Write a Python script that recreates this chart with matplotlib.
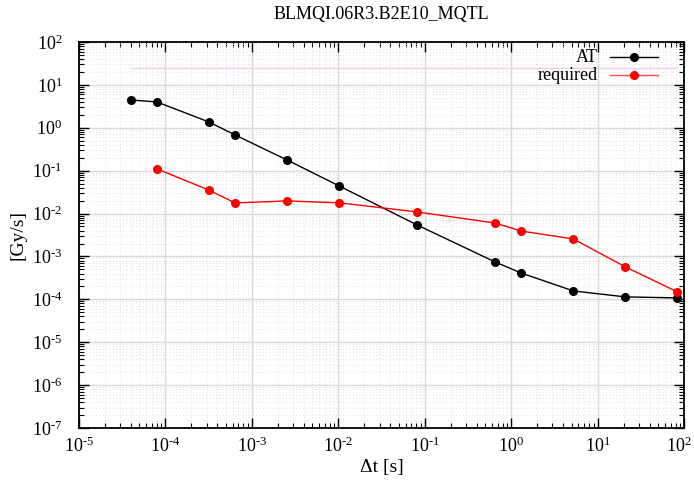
import matplotlib
matplotlib.use("Agg")
import matplotlib.pyplot as plt
from matplotlib.ticker import LogLocator, NullFormatter
from matplotlib.transforms import ScaledTranslation
import numpy as np

plt.rcParams['font.family'] = ['Liberation Serif', 'DejaVu Serif']
plt.rcParams['mathtext.fontset'] = 'custom'
plt.rcParams['mathtext.rm'] = 'Liberation Serif'
plt.rcParams['mathtext.it'] = 'Liberation Serif:italic'
plt.rcParams['mathtext.bf'] = 'Liberation Serif:bold'

title = "BLMQI.06R3.B2E10_MQTL"
xlabel = "Δt [s]"
ylabel = "[Gy/s]"

# running sum integration times [s]
t_at = [4e-5, 8e-5, 3.2e-4, 6.4e-4, 2.56e-3, 1.024e-2, 8.192e-2, 0.65536, 1.31072, 5.24288, 20.97152, 83.88608]
at_vals = [4.45, 4.0, 1.36, 0.68, 0.177, 0.044, 0.0054, 7.4e-4, 4.1e-4, 1.57e-4, 1.14e-4, 1.08e-4]

t_req = [8e-5, 3.2e-4, 6.4e-4, 2.56e-3, 1.024e-2, 8.192e-2, 0.65536, 1.31072, 5.24288, 20.97152, 83.88608]
req_vals = [0.11, 0.035, 0.0177, 0.0197, 0.0178, 0.0109, 0.006, 0.0039, 0.00256, 5.7e-4, 1.49e-4]

t_lim = [4e-5, 83.88608]
lim_vals = [24.5, 24.5]

xticks = [1e-5, 1e-4, 1e-3, 1e-2, 1e-1, 1e0, 1e1, 1e2]
xticklabels = [r"$10^{\text{-}5}$", r"$10^{\text{-}4}$", r"$10^{\text{-}3}$", r"$10^{\text{-}2}$",
               r"$10^{\text{-}1}$", r"$10^{0}$", r"$10^{1}$", r"$10^{2}$"]
yticks = [1e-7, 1e-6, 1e-5, 1e-4, 1e-3, 1e-2, 1e-1, 1e0, 1e1, 1e2]
yticklabels = [r"$10^{\text{-}7}$", r"$10^{\text{-}6}$", r"$10^{\text{-}5}$", r"$10^{\text{-}4}$",
               r"$10^{\text{-}3}$", r"$10^{\text{-}2}$", r"$10^{\text{-}1}$", r"$10^{0}$",
               r"$10^{1}$", r"$10^{2}$"]

fig = plt.figure(figsize=(6.94, 4.86), dpi=100)
ax = fig.add_axes([79/694, 1-428/486, 605/694, 386/486])
ax.set_xscale('log')
ax.set_yscale('log')
ax.set_xlim(1e-5, 1e2)
ax.set_ylim(1e-7, 1e2)

ax.set_xticks(xticks)
ax.set_xticklabels(xticklabels)
ax.set_yticks(yticks)
ax.set_yticklabels(yticklabels)
ax.xaxis.set_minor_locator(LogLocator(base=10, subs=np.arange(2, 10), numticks=20))
ax.yaxis.set_minor_locator(LogLocator(base=10, subs=np.arange(2, 10), numticks=20))
ax.xaxis.set_minor_formatter(NullFormatter())
ax.yaxis.set_minor_formatter(NullFormatter())

ax.tick_params(which='both', direction='in', top=True, right=True, labelsize=13)
ax.tick_params(axis='x', which='major', pad=6)
ax.tick_params(axis='y', which='major', pad=12)
ax.tick_params(which='major', length=7, width=1)
ax.tick_params(which='minor', length=3.5, width=0.8)

# keep the last x tick label inside the figure
last = ax.xaxis.get_major_ticks()[-1].label1
last.set_transform(last.get_transform() + ScaledTranslation(-5/100, 0, fig.dpi_scale_trans))

ax.grid(which='major', color='#dadada', linestyle='-', linewidth=1.0)
ax.grid(which='minor', color='#dedede', linestyle=(0, (1.2, 2.8)), linewidth=0.6)
ax.set_axisbelow(True)
for s in ax.spines.values():
    s.set_linewidth(1.3)

ax.plot(t_lim, lim_vals, color='#f8c8f8', lw=1.0, zorder=2)
ax.plot(t_at, at_vals, color='black', lw=1.0, marker='o', markersize=5.5, zorder=3)
ax.plot(t_req, req_vals, color='red', lw=1.0, marker='o', markersize=5.5, zorder=3)

# gnuplot-style legend (text right-aligned, sample to the right)
tr = ax.transAxes
ax.text((598-79)/605, (428-57)/386, "AT", transform=tr, ha='right', va='center', fontsize=13)
ax.plot([(610-79)/605, (658-79)/605], [(428-57)/386]*2, color='black', lw=1.0, transform=tr, clip_on=False)
ax.plot([(634-79)/605], [(428-57)/386], 'o', color='black', markersize=5.5, transform=tr, clip_on=False)
ax.text((598-79)/605, (428-75)/386, "required", transform=tr, ha='right', va='center', fontsize=13)
ax.plot([(610-79)/605, (658-79)/605], [(428-75)/386]*2, color='#ff5050', lw=1.0, transform=tr, clip_on=False)
ax.plot([(634-79)/605], [(428-75)/386], 'o', color='red', markersize=5.5, transform=tr, clip_on=False)

fig.text(381.5/694, 1-14/486, title, ha='center', va='center', fontsize=13)
fig.text(381.5/694, 1-467/486, xlabel, ha='center', va='center', fontsize=14)
fig.text(18/694, 1-235/486, ylabel, ha='center', va='center', rotation=90, fontsize=14)

fig.savefig("out.png", dpi=100)
